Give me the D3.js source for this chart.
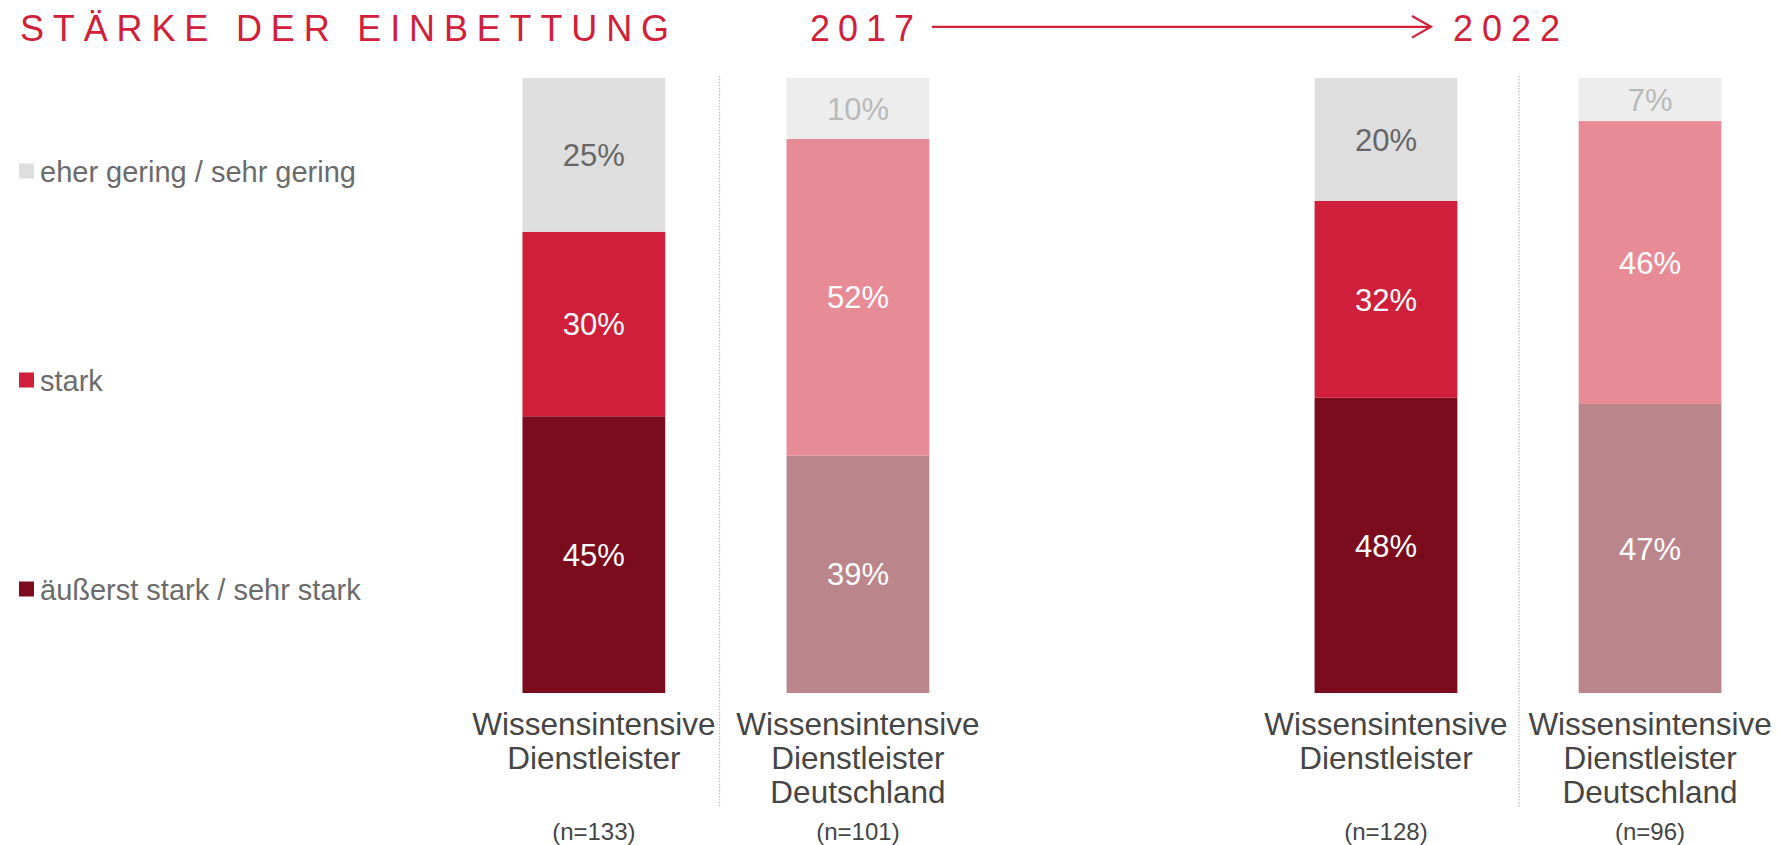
<!DOCTYPE html>
<html>
<head>
<meta charset="utf-8">
<script src="https://cdn.jsdelivr.net/npm/d3@7"></script>
<style>
  body { margin: 0; background: #fff; }
  svg { display: block; font-family: "Liberation Sans", Arial, sans-serif; }
</style>
</head>
<body>
<div class="chart"></div>
<script>
// data
const years = ["2017", "2022"];
const groups = ["Wissensintensive Dienstleister", "Wissensintensive Dienstleister Deutschland"];
const levels = ["äußerst stark / sehr stark", "stark", "eher gering / sehr gering"];
// order of bars: 2017 WD, 2017 WDD, 2022 WD, 2022 WDD
const sehrStark = [45, 39, 48, 47];
const stark = [30, 52, 32, 46];
const gering = [25, 10, 20, 7];
const sampleN = [133, 101, 128, 96];

const width = 1778, height = 845;

const svg = d3.select(".chart")
    .append("svg")
    .attr("width", width)
    .attr("height", height);

// rows for the stack
const rows = [];
years.forEach((yr, i) => {
    groups.forEach((g, j) => {
        const k = i * groups.length + j;
        rows.push({
            year: yr, group: g, gi: j, n: sampleN[k],
            [levels[0]]: sehrStark[k],
            [levels[1]]: stark[k],
            [levels[2]]: gering[k]
        });
    });
});

const stack = d3.stack().keys(levels).offset(d3.stackOffsetExpand);
const series = stack(rows);

// scales
const x0 = d3.scaleBand().domain(years).range([461.8, 1782.1]).paddingInner(0.3332);
const x1 = d3.scaleBand().domain(groups).range([0, x0.bandwidth()])
    .paddingInner(0.4593).paddingOuter(0.2297);
const y = d3.scaleLinear().domain([0, 1]).range([693, 78]);

// colours: first group full colours, second group lighter
const colors = [
    ["#7a0c1e", "#d01f3a", "#dedede"],
    ["#bb858c", "#e78c97", "#ededed"]
];
const labelColors = [
    ["#ffffff", "#ffffff", "#666666"],
    ["#ffffff", "#ffffff", "#b9b9b9"]
];

const xPos = d => x0(d.data.year) + x1(d.data.group);

// separators
const sepShift = [-6.4, 1];
svg.append("g").selectAll("line")
    .data(years)
    .join("line")
    .attr("x1", (d, i) => x0(d) + x0.bandwidth() / 2 + sepShift[i])
    .attr("x2", (d, i) => x0(d) + x0.bandwidth() / 2 + sepShift[i])
    .attr("y1", 76)
    .attr("y2", 808)
    .attr("stroke", "#bdbdbd")
    .attr("stroke-width", 1.3)
    .attr("stroke-dasharray", "1.5,1.5");

// bars
const layer = svg.append("g").selectAll("g")
    .data(series)
    .join("g");

layer.selectAll("rect")
    .data((s, si) => s.map(d => Object.assign(d, {si: si})))
    .join("rect")
    .attr("x", d => xPos(d))
    .attr("y", d => y(d[1]))
    .attr("width", x1.bandwidth())
    .attr("height", d => y(d[0]) - y(d[1]))
    .attr("fill", d => colors[d.data.gi][d.si]);

layer.selectAll("text")
    .data((s, si) => s.map(d => Object.assign(d, {key: s.key})))
    .join("text")
    .attr("x", d => xPos(d) + x1.bandwidth() / 2)
    .attr("y", d => (y(d[0]) + y(d[1])) / 2)
    .attr("dy", "0.36em")
    .attr("text-anchor", "middle")
    .attr("font-size", 31)
    .attr("fill", d => labelColors[d.data.gi][d.si])
    .text(d => d.data[d.key] + "%");

// category labels
const cat = svg.append("g").selectAll("text")
    .data(rows)
    .join("text")
    .attr("text-anchor", "middle")
    .attr("font-size", 31.5)
    .attr("fill", "#454545");
cat.each(function(d) {
    const cx = x0(d.year) + x1(d.group) + x1.bandwidth() / 2;
    const words = d.group.split(" ");
    d3.select(this).selectAll("tspan")
        .data(words)
        .join("tspan")
        .attr("x", cx)
        .attr("y", (w, i) => 734.5 + i * 34.3)
        .text(w => w);
});

// sample sizes
svg.append("g").selectAll("text")
    .data(rows)
    .join("text")
    .attr("x", d => x0(d.year) + x1(d.group) + x1.bandwidth() / 2)
    .attr("y", 839.5)
    .attr("text-anchor", "middle")
    .attr("font-size", 24)
    .attr("fill", "#454545")
    .text(d => "(n=" + d.n + ")");

// legend
const legendY = [589, 380, 171];
const legend = svg.append("g").selectAll("g")
    .data(levels)
    .join("g")
    .attr("transform", (d, i) => `translate(19, ${legendY[i]})`);
legend.append("rect")
    .attr("x", 0).attr("y", -7.5)
    .attr("width", 15).attr("height", 15)
    .attr("fill", (d, i) => colors[0][i]);
legend.append("text")
    .attr("x", 21)
    .attr("y", 10.5)
    .attr("font-size", 29)
    .attr("fill", "#6b6b6b")
    .text(d => d);

// title and years
const red = "#d0203a";
const heading = svg.append("g")
    .attr("font-family", "'Liberation Sans Narrow', 'Arial Narrow', 'Liberation Sans', sans-serif")
    .attr("font-size", 36)
    .attr("fill", red);
heading.append("text")
    .attr("x", 20).attr("y", 40.5)
    .attr("textLength", 649).attr("lengthAdjust", "spacing")
    .text("STÄRKE DER EINBETTUNG");
heading.append("text")
    .attr("x", 810).attr("y", 40.5)
    .attr("textLength", 104).attr("lengthAdjust", "spacing")
    .text(years[0]);
heading.append("text")
    .attr("x", 1453).attr("y", 40.5)
    .attr("textLength", 107).attr("lengthAdjust", "spacing")
    .text(years[1]);

// arrow
svg.append("line")
    .attr("x1", 932).attr("x2", 1430)
    .attr("y1", 26.8).attr("y2", 26.8)
    .attr("stroke", red).attr("stroke-width", 2.2);
svg.append("path")
    .attr("d", "M1412,16 L1431,26.8 L1412,37.6")
    .attr("fill", "none")
    .attr("stroke", red)
    .attr("stroke-width", 2.2);
</script>
</body>
</html>
